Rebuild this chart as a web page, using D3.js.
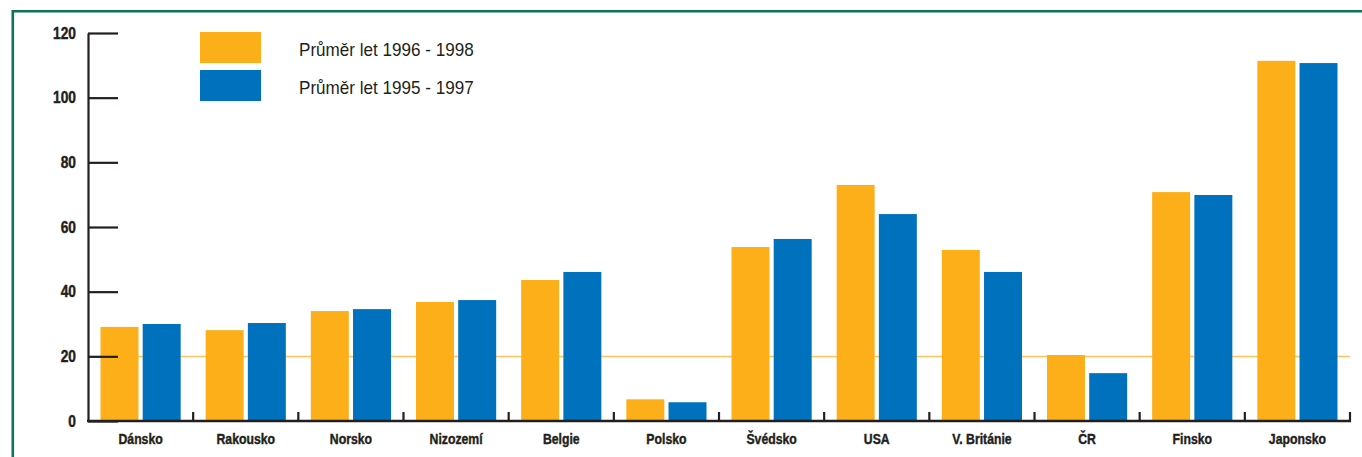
<!DOCTYPE html>
<html>
<head>
<meta charset="utf-8">
<script src="https://cdn.jsdelivr.net/npm/d3@7"></script>
<style>
  html, body { margin: 0; padding: 0; background: #fff; }
  svg { display: block; }
</style>
</head>
<body>
<svg id="chart" width="1362" height="457"></svg>
<script>
const categories = ["Dánsko", "Rakousko", "Norsko", "Nizozemí", "Belgie", "Polsko", "Švédsko", "USA", "V. Británie", "ČR", "Finsko", "Japonsko"];
const seriesNames = ["Průměr let 1996 - 1998", "Průměr let 1995 - 1997"];
const values9698 = [29.1, 28.1, 34.0, 36.8, 43.6, 6.7, 53.8, 73.0, 52.9, 20.4, 70.8, 111.4];
const values9597 = [30.0, 30.3, 34.6, 37.4, 46.1, 5.8, 56.3, 64.0, 46.1, 14.8, 69.9, 110.7];
const yTicks = [0, 20, 40, 60, 80, 100, 120];
const refValue = 20;
const colors = ["#fdaf19", "#0071bc"];

(function () {
const svg = d3.select("#chart");
const W = 1362, H = 457;
const mLeft = 88, mRight = 1350, mTop = 33, mBottom = 421;
const ink = "#231f20";
const font = '"Liberation Sans", Arial, sans-serif';

// green frame
svg.append("path")
  .attr("d", `M12.8,${H + 5}V11.3H${W + 5}`)
  .attr("fill", "none")
  .attr("stroke", "#0f7356")
  .attr("stroke-width", 2.6);

const y = d3.scaleLinear().domain([0, 120]).range([mBottom, mTop]);
const x0 = d3.scaleBand().domain(categories).range([mLeft, mRight]).padding(0);
const x1 = d3.scaleBand().domain(seriesNames)
  .range([12.5, x0.bandwidth() - 12.5]).paddingInner(0.1).paddingOuter(0);

// reference line at 20
svg.append("line")
  .attr("x1", mLeft).attr("x2", mRight)
  .attr("y1", Math.round(y(refValue)) + 0.5).attr("y2", Math.round(y(refValue)) + 0.5)
  .attr("stroke", "#fcc35f").attr("stroke-width", 1.3);

// bars
const data = categories.map((c, i) => ({ cat: c, vals: [values9698[i], values9597[i]] }));
const groups = svg.append("g").selectAll("g").data(data).join("g")
  .attr("transform", d => `translate(${x0(d.cat)},0)`);
groups.selectAll("rect")
  .data(d => d.vals.map((v, j) => ({ key: seriesNames[j], v, j })))
  .join("rect")
  .attr("x", d => x1(d.key))
  .attr("width", x1.bandwidth())
  .attr("y", d => y(d.v))
  .attr("height", d => y(0) - y(d.v))
  .attr("fill", d => colors[d.j]);

// y axis
const ySx = 0.86, yPad = 12;
const yAxis = d3.axisLeft(y).tickValues(yTicks).tickSize(-30).tickSizeOuter(0).tickPadding(yPad);
const gy = svg.append("g").attr("transform", `translate(${mLeft},0)`).call(yAxis);
gy.select(".domain").attr("stroke", ink).attr("stroke-width", 2.2);
gy.selectAll(".tick line").attr("stroke", ink).attr("stroke-width", 2.2);
gy.selectAll(".tick text")
  .attr("fill", ink)
  .attr("stroke", ink)
  .attr("stroke-width", 0.45)
  .attr("x", -yPad / ySx)
  .attr("transform", `scale(${ySx},1)`)
  .style("font-family", font)
  .style("font-size", "16px")
  .style("font-weight", "bold");

// x axis
const xAxis = d3.axisBottom(x0).tickSize(0).tickPadding(12);
const gx = svg.append("g").attr("transform", `translate(0,${mBottom})`).call(xAxis);
gx.select(".domain").remove();
gx.selectAll(".tick text")
  .attr("fill", ink)
  .attr("stroke", ink)
  .attr("stroke-width", 0.45)
  .attr("transform", "scale(0.79,1)")
  .style("font-family", font)
  .style("font-size", "15.5px")
  .style("font-weight", "bold");

// x baseline
svg.append("line")
  .attr("x1", mLeft - 1).attr("x2", mRight + 1)
  .attr("y1", mBottom).attr("y2", mBottom)
  .attr("stroke", ink).attr("stroke-width", 2.6);

// boundary ticks
svg.append("g").selectAll("line")
  .data(categories)
  .join("line")
  .attr("x1", d => x0(d) + x0.bandwidth())
  .attr("x2", d => x0(d) + x0.bandwidth())
  .attr("y1", mBottom)
  .attr("y2", mBottom - 9)
  .attr("stroke", ink)
  .attr("stroke-width", 2.2);

// legend
const lSx = 0.95;
const legend = svg.append("g").selectAll("g").data(seriesNames).join("g")
  .attr("transform", (d, i) => `translate(200,${32 + i * 38})`);
legend.append("rect")
  .attr("width", 61).attr("height", 31)
  .attr("fill", (d, i) => colors[i]);
legend.append("text")
  .attr("x", 99 / lSx).attr("y", 23.7)
  .attr("transform", `scale(${lSx},1)`)
  .attr("fill", ink)
  .style("font-family", font)
  .style("font-size", "18px")
  .text(d => d);
})();
</script>
</body>
</html>
